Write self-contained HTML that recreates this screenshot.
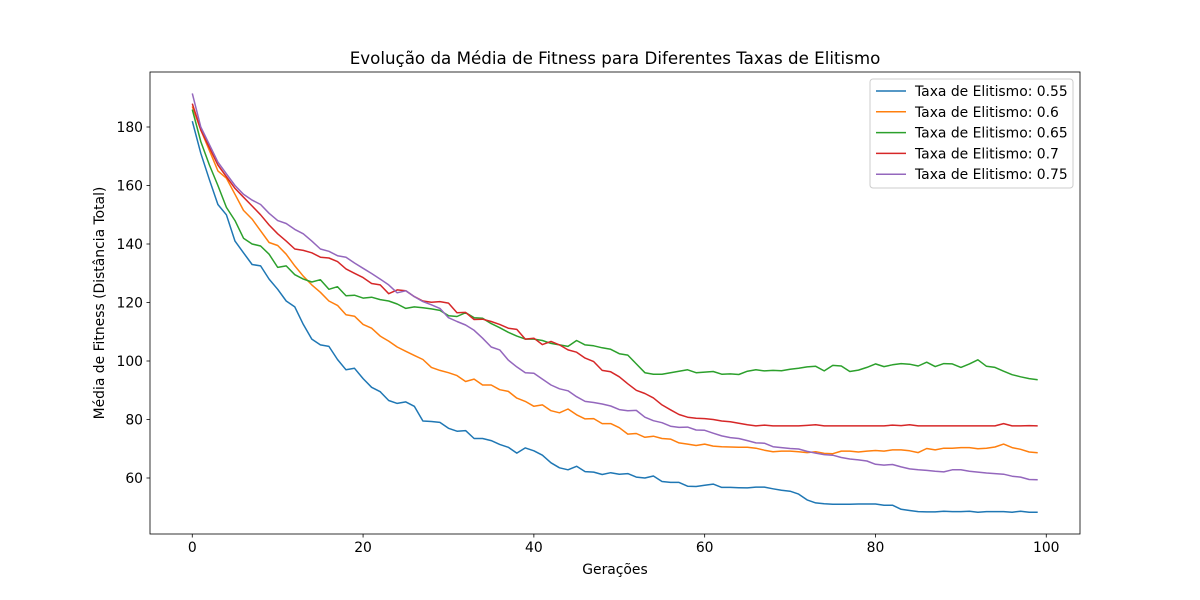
<!DOCTYPE html>
<html><head><meta charset="utf-8"><style>
body{margin:0;background:#fff;}
svg{display:block;font-family:"DejaVu Sans","Liberation Sans",sans-serif;}
</style></head><body>
<svg id="chart" width="1200" height="600">
<rect width="1200" height="600" fill="#fff"/>
<text x="615" y="64" font-size="16.7" text-anchor="middle">Evolução da Média de Fitness para Diferentes Taxas de Elitismo</text>
<text x="615" y="574" font-size="13.9" text-anchor="middle">Gerações</text>
<text x="0" y="0" font-size="13.9" text-anchor="middle" transform="translate(104,303) rotate(-90)">Média de Fitness (Distância Total)</text>
<g id="plot"></g>
</svg>
<script>
const xTicks=[0,20,40,60,80,100];
const yTicks=[60,80,100,120,140,160,180];
const seriesNames=["Taxa de Elitismo: 0.55","Taxa de Elitismo: 0.6","Taxa de Elitismo: 0.65","Taxa de Elitismo: 0.7","Taxa de Elitismo: 0.75"];
const colors=["#1f77b4","#ff7f0e","#2ca02c","#d62728","#9467bd"];
const s055=[182,171,162,153.5,150,141,137,133,132.5,128,124.5,120.5,118.5,112.5,107.5,105.5,105,100.5,97,97.5,94,91,89.5,86.5,85.5,86,84.5,79.5,79.3,79,77,76,76.2,73.5,73.5,72.8,71.5,70.5,68.5,70.3,69.3,67.8,65.2,63.5,62.8,64,62.2,62,61.2,61.8,61.3,61.5,60.3,60,60.7,58.8,58.5,58.5,57.2,57.1,57.5,57.9,56.8,56.8,56.7,56.6,56.9,56.9,56.3,55.8,55.5,54.5,52.5,51.5,51.2,51,51,51,51.1,51.1,51.1,50.7,50.7,49.3,48.9,48.5,48.4,48.4,48.6,48.5,48.5,48.6,48.3,48.5,48.5,48.5,48.3,48.6,48.3,48.3];
const s060=[187,179,172,165,162.5,157,151.5,148.5,144.5,140.5,139.5,136.5,132.5,129,126,123.5,120.5,119,115.8,115.3,112.5,111.2,108.5,106.8,104.8,103.3,101.9,100.5,97.8,96.8,96,95,93,93.8,91.8,91.8,90.2,89.6,87.3,86.2,84.5,85,83,82.3,83.6,81.6,80.2,80.3,78.6,78.6,77.2,75,75.2,73.9,74.3,73.5,73.3,72,71.6,71.1,71.6,70.9,70.7,70.6,70.5,70.5,70.2,69.5,69,69.2,69.2,69,68.7,69,68.4,68.3,69.2,69.2,68.9,69.2,69.4,69.2,69.6,69.6,69.3,68.7,70.1,69.6,70.2,70.2,70.4,70.4,70,70.2,70.6,71.6,70.4,69.8,68.9,68.6];
const s065=[186,175,167,160,152.5,148,142,140,139.3,136.5,132,132.5,129.5,128,127,127.8,124.5,125.4,122.3,122.5,121.5,121.8,121,120.5,119.5,118,118.5,118.2,117.8,117.3,115.5,115.2,116.5,114.8,114.6,112.8,111.4,109.8,108.5,107.5,107.5,107,106,105.5,105,107,105.5,105.2,104.5,104,102.5,102,99,96,95.5,95.5,96,96.5,97,96,96.2,96.4,95.5,95.6,95.4,96.5,97,96.6,96.8,96.7,97.2,97.5,98,98.2,96.6,98.5,98.3,96.4,96.9,97.8,99,98.1,98.7,99.1,98.9,98.3,99.6,98.1,99.1,99,97.8,99,100.4,98.2,97.8,96.5,95.3,94.6,94,93.6];
const s070=[188,179,173,167,163,159,156,153,150,146.5,143.5,141,138.3,137.8,137,135.5,135.2,134,131.5,130,128.5,126.5,126,123,124.3,124,122,120.5,120.1,120.3,119.8,116.5,116.6,114.2,114.3,113.5,112.5,111.2,110.8,107.5,107.8,105.6,106.7,105.5,103.8,103,101,99.8,96.8,96.3,94.6,92.2,90,88.9,87.4,85,83.3,81.7,80.8,80.4,80.3,80,79.5,79.2,78.7,78.2,77.8,78.1,77.8,77.8,77.8,77.8,78,78.2,77.8,77.8,77.8,77.8,77.8,77.8,77.8,77.8,78.1,77.9,78.2,77.8,77.8,77.8,77.8,77.8,77.8,77.8,77.8,77.8,77.8,78.6,77.8,77.8,77.9,77.8];
const s075=[191.5,180,174,168,164,160,157,155,153.5,150.5,148,147,145,143.5,141,138.3,137.5,136,135.5,133.5,131.7,129.9,128,126,123.3,124,122,120.3,119.2,118,114.8,113.5,112.3,110.5,107.8,104.8,103.8,100.3,98,96,95.8,93.8,91.8,90.5,89.8,87.8,86.2,85.8,85.3,84.6,83.4,83,83.1,80.8,79.6,78.9,77.7,77.3,77.4,76.4,76.3,75.3,74.4,73.8,73.5,72.8,72,71.9,70.7,70.4,70.1,69.9,69.1,68.5,68,67.8,67,66.5,66.2,65.8,64.7,64.4,64.6,63.8,63.1,62.8,62.6,62.3,62.1,62.8,62.8,62.3,62,61.7,61.5,61.3,60.6,60.3,59.5,59.4];
const allSeries=[s055,s060,s065,s070,s075];
const NS="http://www.w3.org/2000/svg";
const L=150,R=1080,T=72,B=534;
const xMin=-4.95,xMax=103.95;
const X=v=>L+(v-xMin)/(xMax-xMin)*(R-L);
const Y=v=>361-(v-100)*2.925;
const g=document.getElementById('plot');
function mk(t,a,p){const e=document.createElementNS(NS,t);for(const k in a)e.setAttribute(k,a[k]);(p||g).appendChild(e);return e;}
allSeries.forEach((s,i)=>{
  const d=s.map((v,j)=>(j?'L':'M')+X(j).toFixed(1)+','+Y(v).toFixed(1)).join('');
  const p=mk('path',{d:d,fill:'none',stroke:colors[i],'stroke-width':1.5,'stroke-linejoin':'round'});
  
  
});
const fr=mk('rect',{x:L,y:T,width:R-L,height:B-T,fill:'none',stroke:'#000','stroke-width':0.8});


xTicks.forEach(v=>{
  mk('line',{x1:X(v),x2:X(v),y1:B,y2:B+3.5,stroke:'#000','stroke-width':0.8});
  const t=mk('text',{x:X(v),y:B+18,'font-size':13.9,'text-anchor':'middle'});t.textContent=v;
  
  
});
yTicks.forEach(v=>{
  mk('line',{x1:L-3.5,x2:L,y1:Y(v),y2:Y(v),stroke:'#000','stroke-width':0.8});
  const t=mk('text',{x:L-7,y:Y(v)+5,'font-size':13.9,'text-anchor':'end'});t.textContent=v;
  
  
});
const lg=mk('g',{});


mk('rect',{x:870,y:79,width:203,height:109,rx:3,fill:'#fff',stroke:'#ccc','stroke-width':1},lg);
seriesNames.forEach((n,i)=>{
  const yy=91+i*20.8;
  const e=mk('g',{},lg);
  
  
  mk('line',{x1:876,x2:906,y1:yy,y2:yy,stroke:colors[i],'stroke-width':1.5},e);
  const t=mk('text',{x:915,y:yy+5,'font-size':13.9},e);t.textContent=n;
});
</script>
</body></html>
